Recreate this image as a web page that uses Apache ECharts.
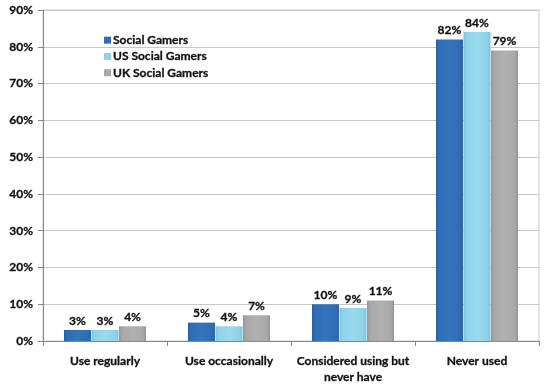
<!DOCTYPE html>
<html><head><meta charset="utf-8">
<script src="https://cdn.jsdelivr.net/npm/echarts@6/dist/echarts.min.js"></script>
<style>html,body{margin:0;padding:0;background:#fff}#c{width:547px;height:391px}</style>
</head><body><div id="c"></div>
<script>
const categories = ['Use regularly', 'Use occasionally', 'Considered using but\nnever have', 'Never used'];
const seriesNames = ['Social Gamers', 'US Social Gamers', 'UK Social Gamers'];
const socialGamers = [3, 5, 10, 82];
const usSocialGamers = [3, 4, 9, 84];
const ukSocialGamers = [4, 7, 11, 79];
const yTicks = [0, 10, 20, 30, 40, 50, 60, 70, 80, 90];

const font = 'Lato, "Open Sans", sans-serif';
function grad(dark, mid, light) {
  return new echarts.graphic.LinearGradient(0, 0, 1, 0, [
    {offset: 0, color: dark}, {offset: 0.12, color: mid}, {offset: 0.5, color: light},
    {offset: 0.88, color: mid}, {offset: 1, color: dark}
  ]);
}
const fills = [
  grad('#2a5f9e', '#2f6db6', '#3474bd'),
  grad('#7cc3da', '#8fd3e9', '#9ad9ee'),
  grad('#949494', '#a8a8a8', '#b0b0b0')
];
const legendColors = ['#2f6db6', '#8fd3e9', '#a8a8a8'];
const dataSets = [socialGamers, usSocialGamers, ukSocialGamers];
const textBase = {fontFamily: font, fontWeight: 'bold', fontSize: 12, color: '#111', textBorderColor: '#111', textBorderWidth: 0.3};

const chart = echarts.init(document.getElementById('c'));
chart.setOption({
  animation: false,
  backgroundColor: '#fff',
  grid: {left: 43, right: 8, top: 10, bottom: 50, show: true, borderColor: '#c8c8c8', borderWidth: 1},
  legend: {
    orient: 'vertical', left: 99, top: 29, itemWidth: 7, itemHeight: 7, itemGap: 4,
    icon: 'rect',
    textStyle: Object.assign({}, textBase, {padding: [0,0,0,-3]}),
    data: seriesNames.map((n, i) => ({name: n, itemStyle: {color: legendColors[i]}}))
  },
  xAxis: {
    type: 'category', data: categories,
    axisLine: {lineStyle: {color: '#888'}},
    axisTick: {show: true, length: 5, lineStyle: {color: '#888'}},
    axisLabel: Object.assign({}, textBase, {margin: 12, lineHeight: 16, interval: 0})
  },
  yAxis: {
    type: 'value', min: 0, max: 90, interval: 10,
    axisLine: {show: true, lineStyle: {color: '#888'}},
    axisTick: {show: true, length: 5, lineStyle: {color: '#888'}},
    splitLine: {lineStyle: {color: '#c8c8c8'}},
    axisLabel: Object.assign({}, textBase, {formatter: '{value}%', margin: 10})
  },
  series: seriesNames.map((n, i) => ({
    name: n, type: 'bar', data: dataSets[i], barWidth: 27, barGap: '2%',
    itemStyle: {color: fills[i]},
    label: Object.assign({}, textBase, {show: true, position: 'top', formatter: '{c}%', distance: 3})
  }))
});
</script></body></html>
